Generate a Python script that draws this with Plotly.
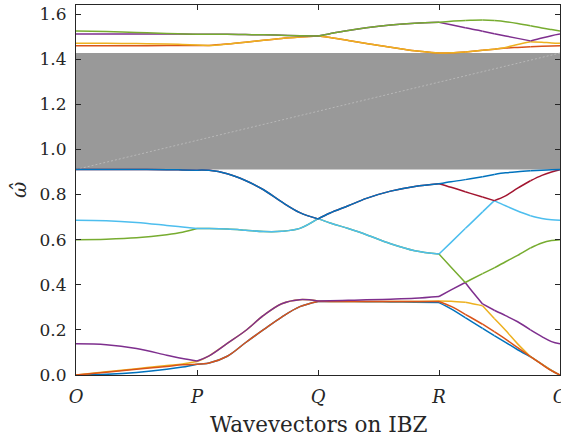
import plotly.graph_objects as go

# Path through the irreducible Brillouin zone: O -> P -> Q -> R -> O
tick_pos = [0, 1, 2, 3, 4]
tick_text = ["<i>O</i>", "<i>P</i>", "<i>Q</i>", "<i>R</i>", "<i>O</i>"]

# Shared wavevector samples along the path
k = [0, 0.25, 0.5, 0.75, 0.88, 1.0, 1.1, 1.25, 1.4, 1.55, 1.7, 1.85, 2.0,
     2.1, 2.25, 2.4, 2.6, 2.8, 3.0, 3.1, 3.217, 3.26, 3.36, 3.457, 3.55,
     3.65, 3.756, 3.85, 3.93, 4.0]
# sample indices where branches meet (symmetry points and crossings)
break_idx = [5, 12, 18, 20, 22, 23, 26]

# Normalised frequencies of the twelve sorted branches
band1 = [0, 0.003, 0.011, 0.025, 0.035, 0.048, 0.053, 0.083, 0.143, 0.201, 0.257, 0.303, 0.326,
         0.326, 0.326, 0.325, 0.324, 0.323, 0.321, 0.293, 0.254, 0.240, 0.207, 0.175, 0.145,
         0.112, 0.081, 0.048, 0.020, 0]
band2 = [0, 0.012, 0.025, 0.038, 0.045, 0.048, 0.053, 0.083, 0.143, 0.201, 0.257, 0.303, 0.326,
         0.326, 0.326, 0.326, 0.326, 0.326, 0.326, 0.304, 0.269, 0.256, 0.225, 0.192, 0.159,
         0.121, 0.081, 0.047, 0.019, 0]
band3 = [0, 0.014, 0.028, 0.042, 0.049, 0.060, 0.085, 0.140, 0.196, 0.264, 0.316, 0.334, 0.328,
         0.326, 0.326, 0.326, 0.326, 0.326, 0.328, 0.327, 0.322, 0.318, 0.307, 0.250, 0.198,
         0.138, 0.081, 0.048, 0.020, 0]
band4 = [0.138, 0.134, 0.117, 0.088, 0.073, 0.062, 0.085, 0.140, 0.196, 0.264, 0.316, 0.334, 0.328,
         0.329, 0.331, 0.333, 0.336, 0.340, 0.348, 0.377, 0.410, 0.380, 0.315, 0.287, 0.263,
         0.236, 0.200, 0.170, 0.148, 0.138]
band5 = [0.600, 0.602, 0.608, 0.622, 0.633, 0.649, 0.649, 0.647, 0.642, 0.636, 0.637, 0.650, 0.693,
         0.674, 0.649, 0.622, 0.582, 0.551, 0.536, 0.478, 0.410, 0.422, 0.449, 0.475, 0.502,
         0.530, 0.563, 0.585, 0.596, 0.600]
band6 = [0.686, 0.684, 0.676, 0.663, 0.656, 0.649, 0.649, 0.647, 0.642, 0.636, 0.637, 0.650, 0.693,
         0.674, 0.649, 0.622, 0.582, 0.551, 0.536, 0.588, 0.649, 0.671, 0.723, 0.773, 0.750,
         0.727, 0.706, 0.694, 0.688, 0.686]
band7 = [0.911, 0.911, 0.911, 0.910, 0.909, 0.908, 0.907, 0.892, 0.862, 0.821, 0.767, 0.720, 0.692,
         0.718, 0.750, 0.783, 0.815, 0.836, 0.848, 0.832, 0.812, 0.805, 0.789, 0.773, 0.794,
         0.828, 0.861, 0.885, 0.900, 0.910]
band8 = [0.911, 0.911, 0.911, 0.910, 0.909, 0.908, 0.907, 0.892, 0.862, 0.821, 0.767, 0.720, 0.692,
         0.718, 0.750, 0.783, 0.815, 0.836, 0.848, 0.857, 0.866, 0.870, 0.879, 0.889, 0.896,
         0.901, 0.905, 0.908, 0.910, 0.911]
band9 = [1.459, 1.459, 1.459, 1.460, 1.460, 1.460, 1.461, 1.467, 1.475, 1.484, 1.492, 1.498, 1.503,
         1.496, 1.483, 1.469, 1.453, 1.437, 1.427, 1.428, 1.432, 1.434, 1.439, 1.444, 1.449,
         1.452, 1.455, 1.457, 1.458, 1.459]
band10 = [1.471, 1.470, 1.469, 1.467, 1.465, 1.463, 1.461, 1.467, 1.475, 1.484, 1.492, 1.498, 1.503,
          1.496, 1.483, 1.469, 1.453, 1.437, 1.427, 1.428, 1.432, 1.434, 1.439, 1.444, 1.452,
          1.465, 1.477, 1.475, 1.472, 1.471]
band11 = [1.511, 1.511, 1.511, 1.511, 1.511, 1.510, 1.510, 1.510, 1.509, 1.508, 1.506, 1.504, 1.503,
          1.513, 1.527, 1.539, 1.551, 1.559, 1.563, 1.552, 1.539, 1.535, 1.524, 1.513, 1.503,
          1.492, 1.481, 1.494, 1.504, 1.511]
band12 = [1.525, 1.522, 1.518, 1.514, 1.512, 1.510, 1.510, 1.510, 1.509, 1.508, 1.506, 1.504, 1.503,
          1.513, 1.527, 1.539, 1.551, 1.559, 1.563, 1.568, 1.571, 1.572, 1.573, 1.571, 1.566,
          1.558, 1.548, 1.538, 1.531, 1.525]

# MATLAB-style colour order, cycled over branch index
colors = ["#0072BD", "#D95319", "#EDB120", "#7E2F8E", "#77AC30", "#4DBEEE", "#A2142F"]

bands = [band1, band2, band3, band4, band5, band6, band7, band8, band9, band10, band11, band12]
# drawing order (yellow acoustic branch sits beneath the orange one)
draw_order = [0, 2, 1, 3, 4, 5, 6, 7, 8, 9, 10, 11]

# complete band gap between branch 8 and branch 9
gap_lo = max(band8)
gap_hi = min(band9)

fig = go.Figure()

edges = [0] + break_idx + [len(k) - 1]
for i in draw_order:
    # smooth each piece separately so the branches keep sharp corners where they meet
    for a, b in zip(edges[:-1], edges[1:]):
        fig.add_trace(go.Scatter(
            x=k[a:b + 1], y=bands[i][a:b + 1], mode="lines",
            line=dict(color=colors[i % 7], width=1.5, shape="spline", smoothing=1.0),
            showlegend=False, hoverinfo="skip",
        ))

fig.add_shape(type="rect", xref="x", yref="y", x0=0, x1=4, y0=gap_lo, y1=gap_hi,
              fillcolor="#999999", line=dict(width=0), layer="below")
fig.add_shape(type="line", xref="x", yref="y", x0=0, x1=4, y0=gap_lo, y1=gap_hi,
              line=dict(color="#b8b8b8", width=1, dash="2px,2px"), layer="below")

axis_color = "#262626"
serif = "DejaVu Serif"

fig.update_xaxes(
    range=[0, 4], tickvals=tick_pos, ticktext=tick_text,
    showline=True, linecolor=axis_color, linewidth=1, mirror="ticks",
    ticks="inside", ticklen=5, tickcolor=axis_color, tickwidth=1,
    showgrid=False, zeroline=False, automargin=False,
    tickfont=dict(family=serif, size=18, color=axis_color),
    ticklabelstandoff=5, ticklabeloverflow="allow",
)
fig.update_yaxes(
    range=[0, 1.64], tickvals=[0, 0.2, 0.4, 0.6, 0.8, 1.0, 1.2, 1.4, 1.6],
    tickformat=".1f",
    showline=True, linecolor=axis_color, linewidth=1, mirror="ticks",
    ticks="inside", ticklen=5, tickcolor=axis_color, tickwidth=1,
    showgrid=False, zeroline=False, automargin=False,
    tickfont=dict(family=serif, size=17, color=axis_color),
    ticklabelstandoff=5,
)

fig.add_annotation(text="Wavevectors on IBZ", xref="paper", yref="paper",
                   x=0.5, y=0, xanchor="center", yanchor="middle", yshift=-49,
                   showarrow=False, font=dict(family=serif, size=21.5, color=axis_color))
fig.add_annotation(text="<i>ω̂</i>", xref="paper", yref="paper",
                   x=0, y=0.5, xanchor="center", yanchor="middle", xshift=-57,
                   textangle=-90, showarrow=False,
                   font=dict(family=serif, size=20, color=axis_color))

fig.update_layout(
    width=561, height=442,
    margin=dict(l=76, r=1, t=5, b=67),
    paper_bgcolor="white", plot_bgcolor="white",
)

fig.write_html("out.html")
